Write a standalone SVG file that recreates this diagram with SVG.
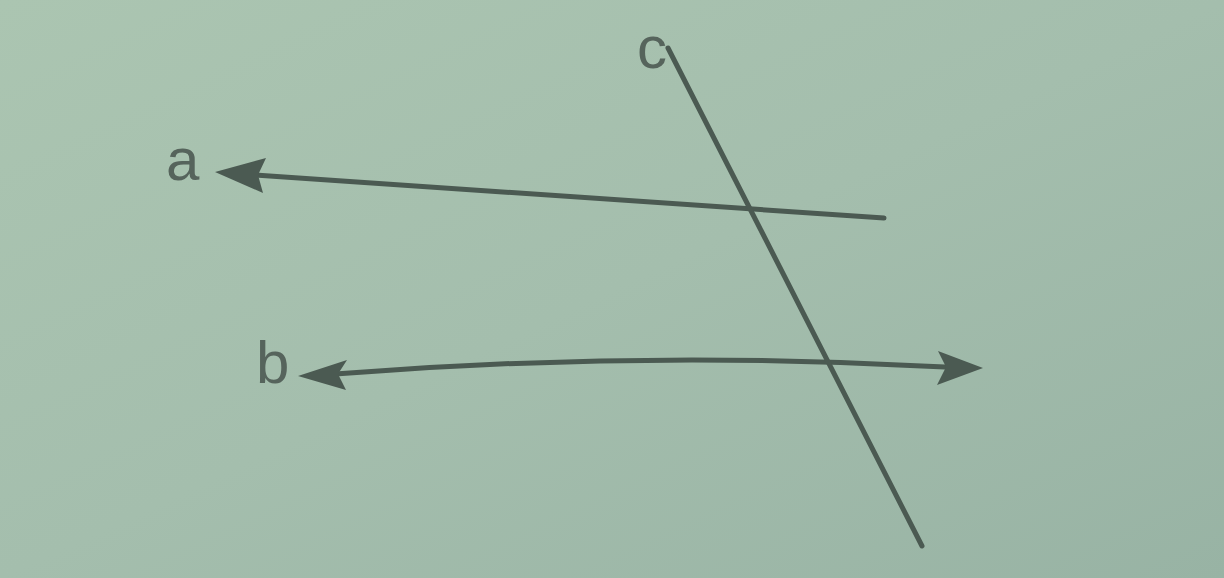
<svg xmlns="http://www.w3.org/2000/svg" width="1224" height="578" viewBox="0 0 1224 578">
<defs>
<linearGradient id="bg" x1="0" y1="0" x2="1" y2="1">
<stop offset="0" stop-color="#abc5b1"/>
<stop offset="0.5" stop-color="#a4bead"/>
<stop offset="1" stop-color="#98b3a4"/>
</linearGradient>
<style>
.ln{fill:none;stroke:#4b5a52;stroke-width:5;stroke-linecap:round}
.hd{fill:#4b5a52}
.lb{font-family:"Liberation Sans",Arial,sans-serif;font-size:60px;fill:#56645c}
</style>
</defs>
<rect width="1224" height="578" fill="url(#bg)"/>
<g id="connectors">
<g id="line-a">
<path class="ln" d="M255,175 L884,218"/>
<path class="hd" d="M215,172 L266,158 L258,175 L263,193 Z"/>
</g>
<g id="line-b">
<path class="ln" d="M335,374 Q640,350 945,367"/>
<path class="hd" d="M298,376 L347,360 L338,374 L346,390 Z"/>
<path class="hd" d="M983,368 L938,351 L946,367 L937,385 Z"/>
</g>
<g id="line-c">
<path class="ln" d="M668,48 L922,546"/>
</g>
</g>
<g id="label-a"><text class="lb" x="166" y="180">a</text></g>
<g id="label-b"><text class="lb" x="256" y="383">b</text></g>
<g id="label-c"><text class="lb" x="637" y="68">c</text></g>
</svg>
